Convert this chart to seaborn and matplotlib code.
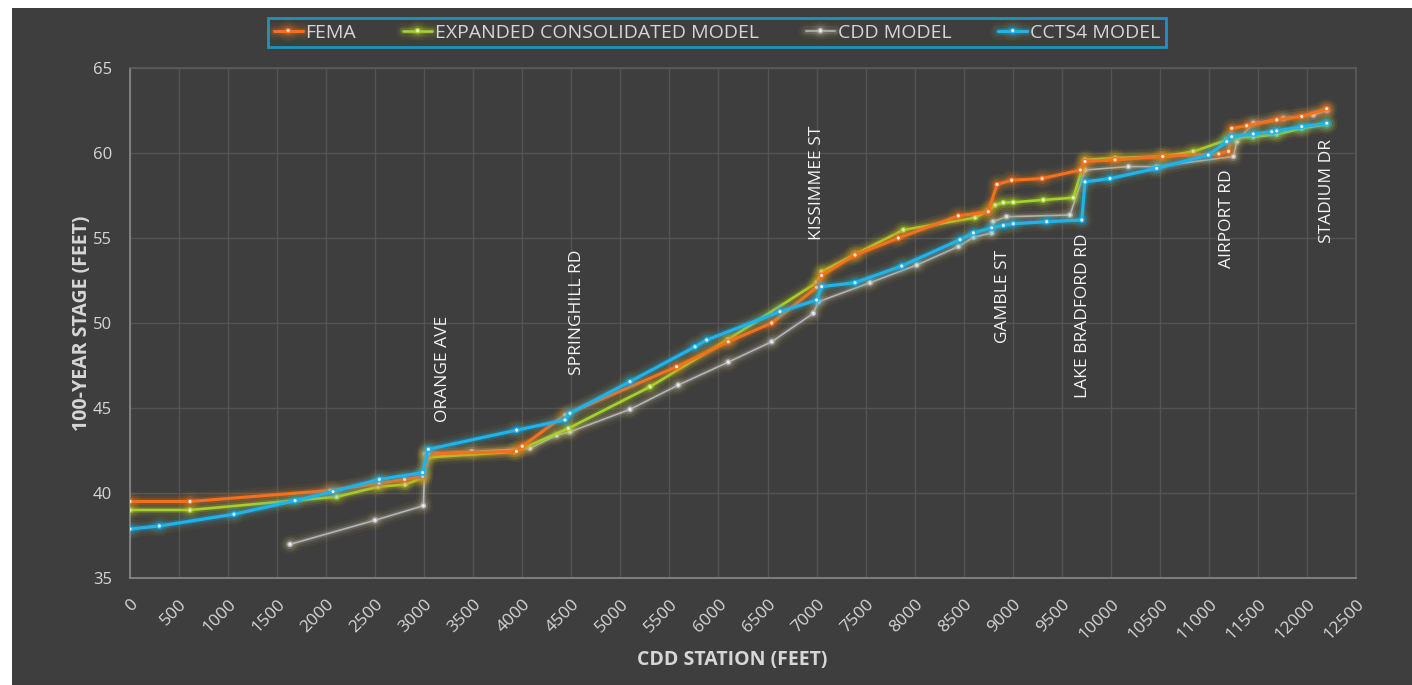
import matplotlib
matplotlib.use("Agg")
import matplotlib.pyplot as plt
import matplotlib.patheffects as pe
from matplotlib.patches import Rectangle
import numpy as np
import pandas as pd
import seaborn as sns

# ---- data: 100-year stage (ft) along CDD station (ft) ----
fema_station = [0, 612, 2040, 2540, 2800, 2985, 3040, 3940, 4000, 4435, 5574, 6100,
                6543, 7001, 7052, 7392, 7834, 8446, 8751, 8840, 8990, 9300, 9690,
                9737, 10043, 10530, 11100, 11200, 11233, 11386, 11692, 11947, 12202]
fema_stage = [39.5, 39.5, 40.15, 40.57, 40.8, 40.96, 42.3, 42.45, 42.75, 44.59, 47.43, 48.9,
              50.0, 52.1, 52.8, 54.0, 55.0, 56.3, 56.55, 58.15, 58.4, 58.5, 59.0,
              59.5, 59.6, 59.8, 59.95, 60.1, 61.45, 61.6, 61.95, 62.15, 62.6]

expanded_station = [0, 612, 2107, 2530, 2804, 2985, 3042, 3925, 4470, 5302, 6100, 7001,
                    7052, 7392, 7885, 8616, 8751, 8820, 8904, 9006, 9312, 9618, 9737,
                    10043, 10530, 10841, 11182, 11233, 11453, 11692, 11947, 12202]
expanded_stage = [39.0, 39.0, 39.78, 40.37, 40.5, 40.9, 42.1, 42.43, 43.8, 46.25, 49.04, 52.37,
                  53.02, 54.04, 55.47, 56.2, 56.6, 56.94, 57.08, 57.1, 57.24, 57.37, 59.6,
                  59.7, 59.8, 60.08, 60.76, 60.9, 60.95, 61.1, 61.45, 61.7]

cdd_station = [1631, 2498, 2991, 3010, 3484, 4078, 4350, 4486, 5098, 5590, 6100, 6543,
               6967, 7018, 7545, 8021, 8446, 8599, 8786, 8800, 8938, 9584, 9737, 10180,
               10468, 11250, 11284, 11453, 11759, 12065, 12202]
cdd_stage = [36.98, 38.4, 39.25, 42.3, 42.43, 42.63, 43.4, 43.6, 44.92, 46.35, 47.7, 48.9,
             50.57, 51.25, 52.37, 53.41, 54.5, 55.04, 55.3, 55.96, 56.25, 56.35, 59.0, 59.2,
             59.2, 59.8, 60.67, 61.75, 62.04, 62.24, 62.5]

ccts4_station = [0, 299, 1060, 1683, 2070, 2542, 2984, 3042, 3943, 4435, 4486, 5098, 5761,
                 5880, 6627, 7001, 7052, 7392, 7868, 8463, 8599, 8786, 8904, 9006, 9347,
                 9704, 9737, 9992, 10468, 10994, 11182, 11233, 11453, 11641, 11692, 11947,
                 12202]
ccts4_stage = [37.88, 38.06, 38.75, 39.55, 40.08, 40.8, 41.2, 42.57, 43.7, 44.3, 44.69, 46.55,
               48.6, 49.0, 50.67, 51.35, 52.14, 52.37, 53.35, 54.9, 55.3, 55.6, 55.74, 55.84,
               55.96, 56.06, 58.3, 58.5, 59.1, 59.88, 60.67, 60.96, 61.12, 61.25, 61.3,
               61.55, 61.75]

series_names = ["FEMA", "EXPANDED CONSOLIDATED MODEL", "CDD MODEL", "CCTS4 MODEL"]

# crossing streets
street_names = ["ORANGE AVE", "SPRINGHILL RD", "KISSIMMEE ST", "GAMBLE ST",
                "LAKE BRADFORD RD", "AIRPORT RD", "STADIUM DR"]
street_station = [3190, 4557, 7004, 8903, 9716, 11185, 12205]
street_label_base = [44.2, 46.95, 54.9, 48.8, 45.6, 53.25, 54.7]

x_ticks = list(range(0, 12501, 500))
y_ticks = [35, 40, 45, 50, 55, 60, 65]

# ---- styling ----
BG = "#3e3e3e"
TXT = "#d6d6d6"
colors = {"FEMA": "#f4701c", "EXPANDED CONSOLIDATED MODEL": "#a6d22c",
          "CDD MODEL": "#b4b4b4", "CCTS4 MODEL": "#1db4ee"}
widths = {"FEMA": 2.2, "EXPANDED CONSOLIDATED MODEL": 1.9,
          "CDD MODEL": 1.2, "CCTS4 MODEL": 2.3}
zorders = {"FEMA": 4, "EXPANDED CONSOLIDATED MODEL": 3, "CDD MODEL": 2, "CCTS4 MODEL": 5}

frames = []
for name, xs, ys in [("FEMA", fema_station, fema_stage),
                     ("EXPANDED CONSOLIDATED MODEL", expanded_station, expanded_stage),
                     ("CDD MODEL", cdd_station, cdd_stage),
                     ("CCTS4 MODEL", ccts4_station, ccts4_stage)]:
    frames.append(pd.DataFrame({"station": xs, "stage": ys, "series": name}))
df = pd.concat(frames, ignore_index=True)

sns.set_theme(style="dark")
plt.rcParams["font.family"] = ["Open Sans", "DejaVu Sans"]

fig = plt.figure(figsize=(14.12, 6.85), dpi=100)
fig.patch.set_facecolor("white")
# dark panel behind everything, leaving a thin white margin top and left
fig.patches.append(Rectangle((12 / 1412, 0), 1 - 12 / 1412, 1 - 8 / 685,
                             transform=fig.transFigure, facecolor=BG,
                             edgecolor="none", zorder=-10))

ax = fig.add_axes([130 / 1412, 1 - 578 / 685, 1226 / 1412, 510 / 685])
ax.set_facecolor(BG)

for name in series_names:
    sub = df[df["series"] == name]
    c = colors[name]
    lw = widths[name]
    sns.lineplot(data=sub, x="station", y="stage", ax=ax, color=c, linewidth=lw,
                 sort=False, estimator=None, marker="o", markersize=3.2,
                 markerfacecolor="#ecece0", markeredgecolor=c, markeredgewidth=0.9,
                 label=name, zorder=zorders[name],
                 path_effects=[pe.Stroke(linewidth=lw + 10, foreground="#d8b020", alpha=0.05),
                               pe.Stroke(linewidth=lw + 6, foreground=c, alpha=0.10),
                               pe.Stroke(linewidth=lw + 2.5, foreground=c, alpha=0.22),
                               pe.Normal()])

ax.set_xlim(0, 12500)
ax.set_ylim(35, 65)
ax.set_xticks(x_ticks)
ax.set_yticks(y_ticks)
ax.set_xticklabels([str(t) for t in x_ticks], rotation=45, ha="right",
                   rotation_mode="anchor", fontsize=12.5, color=TXT)
ax.set_yticklabels([str(t) for t in y_ticks], fontsize=12, color=TXT)
ax.tick_params(axis="x", length=0, pad=13)
ax.tick_params(axis="y", length=0, pad=13)

ax.grid(True, color="#535353", linewidth=1.0)
ax.set_axisbelow(True)
for side in ["left", "bottom", "top", "right"]:
    ax.spines[side].set_visible(True)
    ax.spines[side].set_linewidth(1.2)
ax.spines["left"].set_color("#8a8a8a")
ax.spines["bottom"].set_color("#8a8a8a")
ax.spines["top"].set_color("#5c5c5c")
ax.spines["right"].set_color("#5c5c5c")

ax.set_xlabel("CDD STATION (FEET)", fontsize=14, fontweight="bold", color=TXT)
ax.set_ylabel("100-YEAR STAGE (FEET)", fontsize=14, fontweight="bold", color=TXT)
ax.xaxis.label.set_va("center")
ax.yaxis.label.set_va("center")
ax.xaxis.set_label_coords(0.491, -0.161)
ax.yaxis.set_label_coords(-0.039, 0.5)

for name, sx, sy in zip(street_names, street_station, street_label_base):
    ax.text(sx, sy, name, rotation=90, ha="center", va="bottom", fontsize=12.5,
            color="#f4f4f4", zorder=6)

ax.get_legend().remove()
handles, labels = ax.get_legend_handles_labels()
leg = fig.legend(handles, labels, loc="center", ncol=4,
                 bbox_to_anchor=(717 / 1412, 1 - 32.5 / 685), fontsize=14,
                 frameon=True, fancybox=False, handlelength=1.5, handletextpad=0.15,
                 columnspacing=2.4, borderpad=0.3)
leg.get_frame().set_facecolor(BG)
leg.get_frame().set_edgecolor("#1aa6e0")
leg.get_frame().set_linewidth(2.0)
for t in leg.get_texts():
    t.set_color(TXT)

fig.savefig("out.png", dpi=100, facecolor=fig.get_facecolor())
